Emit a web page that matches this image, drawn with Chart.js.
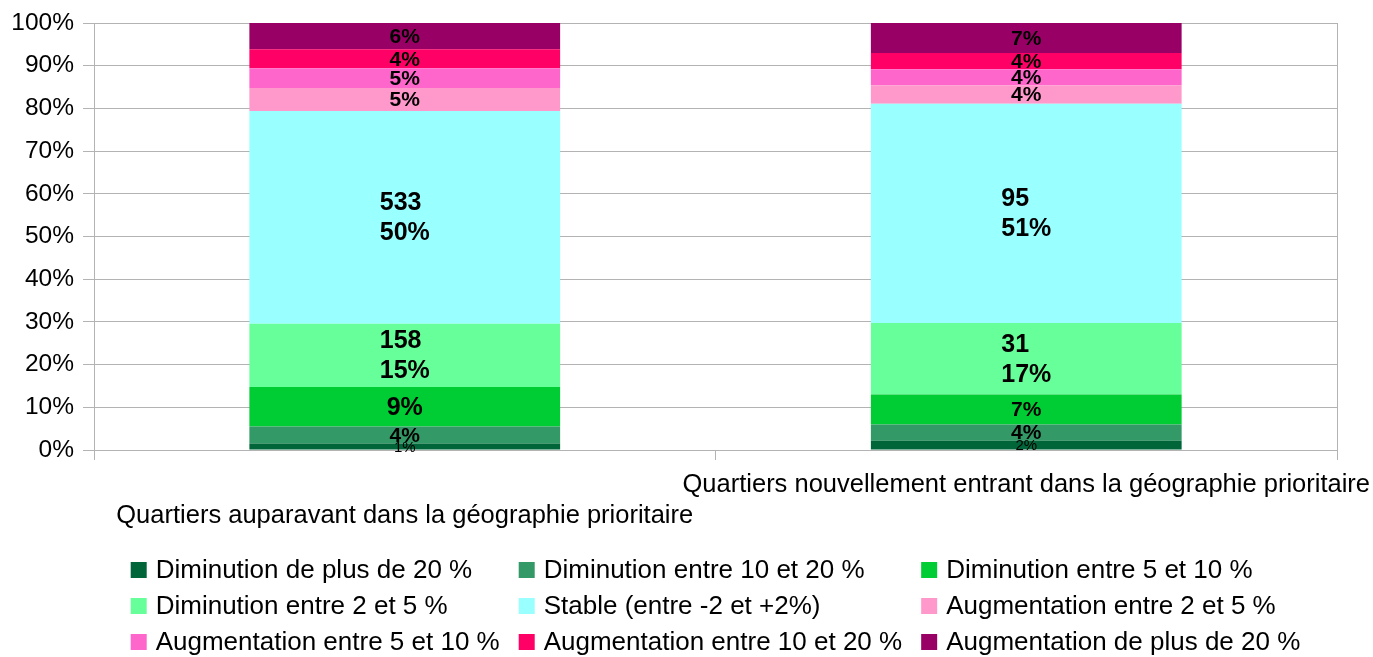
<!DOCTYPE html>
<html>
<head>
<meta charset="utf-8">
<script src="https://cdn.jsdelivr.net/npm/chart.js@4"></script>
<style>
  html, body { margin: 0; padding: 0; background: #fff; }
  #wrap { width: 1373px; height: 657px; }
</style>
</head>
<body>
<div id="wrap"><canvas id="chart"></canvas></div>
<script>
// catégories (la première est décalée d'une ligne vers le bas)
const categories = [
  ['', 'Quartiers auparavant dans la géographie prioritaire'],
  'Quartiers nouvellement entrant dans la géographie prioritaire',
];

const seriesNames = [
  'Diminution de plus de 20 %',
  'Diminution entre 10 et 20 %',
  'Diminution entre 5 et 10 %',
  'Diminution entre 2 et 5 %',
  'Stable (entre -2 et +2%)',
  'Augmentation entre 2 et 5 %',
  'Augmentation entre 5 et 10 %',
  'Augmentation entre 10 et 20 %',
  'Augmentation de plus de 20 %',
];

const seriesColors = [
  '#00663a', '#339966', '#00cc33', '#66ff99', '#99ffff',
  '#ff99cc', '#ff66cc', '#ff0066', '#990066',
];

// nombre de quartiers par classe (auparavant, nouvellement entrant)
const dimPlus20 = [16, 4];
const dim10a20 = [43, 7];
const dim5a10 = [99, 13];
const dim2a5 = [158, 31];
const stable = [533, 95];
const aug2a5 = [57, 8];
const aug5a10 = [50, 7];
const aug10a20 = [47, 7];
const augPlus20 = [66, 13];

const seriesCounts = [dimPlus20, dim10a20, dim5a10, dim2a5, stable, aug2a5, aug5a10, aug10a20, augPlus20];
// séries dont l'étiquette affiche aussi l'effectif
const showCount = [false, false, false, true, true, false, false, false, false];

const yTicks = [0, 10, 20, 30, 40, 50, 60, 70, 80, 90, 100];

const FONT = "'Liberation Sans', Arial, sans-serif";
const GRID = '#b3b3b3';

const totals = categories.map((c, j) => seriesCounts.reduce((s, arr) => s + arr[j], 0));

const datasets = seriesNames.map((name, i) => ({
  label: name,
  data: seriesCounts[i].map((v, j) => (v / totals[j]) * 100),
  counts: seriesCounts[i],
  backgroundColor: seriesColors[i],
  borderWidth: 0,
  categoryPercentage: 0.5,
  barPercentage: 1.0,
}));

const barLabels = {
  id: 'barLabels',
  afterDatasetsDraw(chart) {
    const { ctx } = chart;
    ctx.save();
    ctx.fillStyle = '#000';
    ctx.textBaseline = 'middle';
    chart.data.datasets.forEach((ds, i) => {
      const meta = chart.getDatasetMeta(i);
      meta.data.forEach((bar, j) => {
        const pct = ds.data[j];
        const text = Math.round(pct) + '%';
        let size = 15;
        let weight = 'normal';
        if (pct >= 8) {
          size = 25; weight = 'bold';
        } else if (pct >= 3) {
          size = 21; weight = 'bold';
        }
        ctx.font = `${weight} ${size}px ${FONT}`;
        const cy = (bar.y + bar.base) / 2;
        if (showCount[i]) {
          const lines = [String(ds.counts[j]), text];
          const w = Math.max(...lines.map((l) => ctx.measureText(l).width));
          ctx.textAlign = 'left';
          ctx.fillText(lines[0], bar.x - w / 2, cy - 14);
          ctx.fillText(lines[1], bar.x - w / 2, cy + 16);
        } else {
          ctx.textAlign = 'center';
          ctx.fillText(text, bar.x, cy + 1);
        }
      });
    });
    ctx.restore();
  },
};

// légende en 3 colonnes alignées
const gridLegend = {
  id: 'gridLegend',
  afterDraw(chart) {
    const { ctx, chartArea } = chart;
    const cols = 3;
    const box = 16;
    const gapText = 9;
    const gapCol = 19;
    ctx.save();
    ctx.font = `26px ${FONT}`;
    const items = chart.data.datasets;
    const colW = [];
    for (let c = 0; c < cols; c++) {
      let m = 0;
      items.forEach((ds, k) => {
        if (k % cols === c) m = Math.max(m, ctx.measureText(ds.label).width);
      });
      colW.push(box + gapText + m + gapCol);
    }
    const total = colW.reduce((a, b) => a + b, 0) - gapCol;
    let x0 = (chartArea.left + chartArea.right) / 2 - total / 2;
    const colX = [];
    colW.forEach((w) => { colX.push(x0); x0 += w; });
    ctx.textBaseline = 'middle';
    ctx.textAlign = 'left';
    items.forEach((ds, k) => {
      const c = k % cols;
      const r = Math.floor(k / cols);
      const y = 570 + r * 36;
      ctx.fillStyle = ds.backgroundColor;
      ctx.fillRect(colX[c], y - box / 2, box, box);
      ctx.fillStyle = '#000';
      ctx.fillText(ds.label, colX[c] + box + gapText, y + 1);
    });
    ctx.restore();
  },
};

new Chart(document.getElementById('chart'), {
  type: 'bar',
  data: { labels: categories, datasets },
  plugins: [barLabels, gridLegend],
  options: {
    responsive: true,
    maintainAspectRatio: false,
    animation: false,
    layout: { padding: { top: 23, right: 36, bottom: 120, left: 0 } },
    plugins: {
      legend: { display: false },
      tooltip: { enabled: false },
    },
    scales: {
      x: {
        stacked: true,
        grid: { display: true, drawOnChartArea: false, drawTicks: true, tickLength: 10, color: GRID },
        border: { display: true, color: GRID },
        ticks: {
          color: '#000',
          font: { family: FONT, size: 25.5, lineHeight: 1.2 },
          maxRotation: 0,
          autoSkip: false,
          padding: 10,
        },
        afterFit(scale) {
          scale.paddingLeft = 0;
          scale.paddingRight = 0;
          scale.height = 87;
        },
      },
      y: {
        stacked: true,
        min: 0,
        max: 100,
        afterBuildTicks(scale) {
          scale.ticks = yTicks.map((v) => ({ value: v }));
        },
        grid: { color: GRID, tickLength: 11 },
        border: { display: true, color: GRID },
        ticks: {
          color: '#000',
          font: { family: FONT, size: 24.5 },
          padding: 9,
          callback: (v) => v + '%',
        },
        afterFit(scale) {
          scale.width = 94;
          scale.paddingTop = 0;
          scale.paddingBottom = 0;
        },
      },
      y2: {
        position: 'right',
        min: 0,
        max: 100,
        grid: { drawOnChartArea: false, drawTicks: false },
        border: { display: true, color: GRID },
        ticks: { display: false },
        afterFit(scale) {
          scale.width = 0;
        },
      },
    },
  },
});
</script>
</body>
</html>
